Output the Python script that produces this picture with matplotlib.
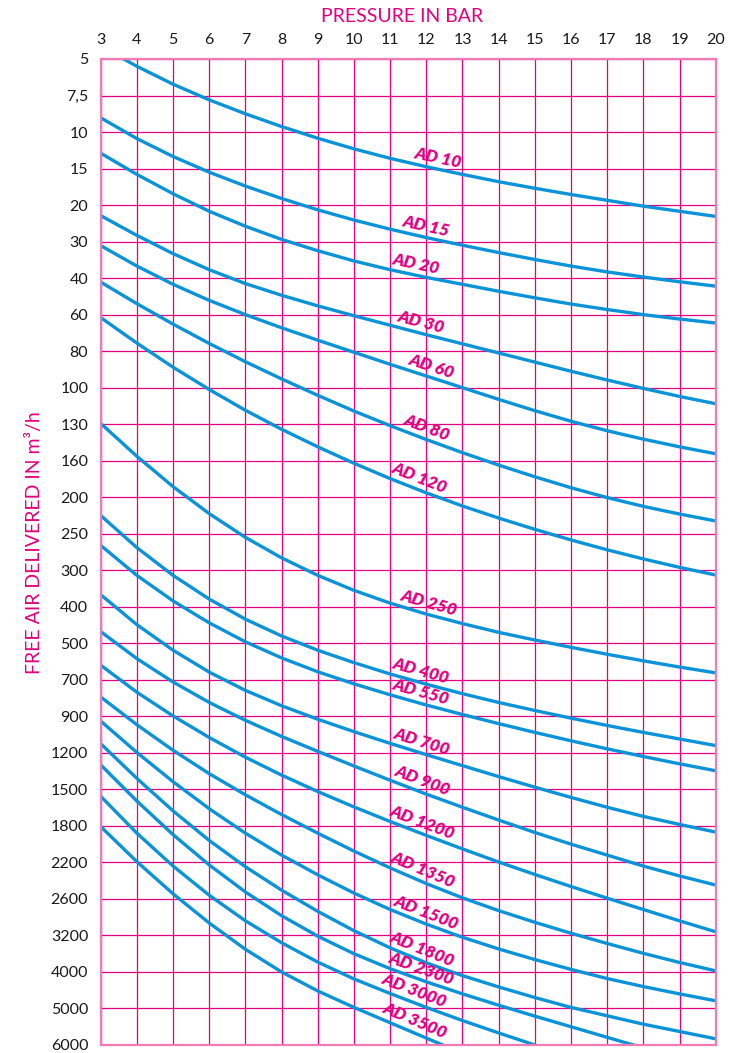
import numpy as np
import matplotlib.pyplot as plt

plt.rcParams['font.family'] = ['Lato', 'DejaVu Sans']

# pressure in bar (top axis)
pressure = list(range(3, 21))

# free air delivered in m3/h (rows of the chart, top to bottom)
flow_labels = ['5', '7,5', '10', '15', '20', '30', '40', '60', '80', '100',
               '130', '160', '200', '250', '300', '400', '500', '700', '900',
               '1200', '1500', '1800', '2200', '2600', '3200', '4000', '5000',
               '6000']

models = ['AD 10', 'AD 15', 'AD 20', 'AD 30', 'AD 60', 'AD 80', 'AD 120',
          'AD 250', 'AD 400', 'AD 550', 'AD 700', 'AD 900', 'AD 1200',
          'AD 1350', 'AD 1500', 'AD 1800', 'AD 2300', 'AD 3000', 'AD 3500']

# curve positions, in row units (0 = "5", 27 = "6000")
ad10 = [-0.35, 0.20, 0.69, 1.12, 1.50, 1.85, 2.17, 2.46, 2.72, 2.95, 3.16, 3.36, 3.54, 3.71, 3.87, 4.03, 4.17, 4.31]
ad15 = [1.61, 2.18, 2.67, 3.10, 3.48, 3.82, 4.13, 4.41, 4.66, 4.89, 5.10, 5.30, 5.49, 5.67, 5.83, 5.97, 6.10, 6.22]
ad20 = [2.58, 3.16, 3.69, 4.17, 4.58, 4.94, 5.25, 5.53, 5.77, 5.98, 6.17, 6.36, 6.54, 6.71, 6.86, 7.00, 7.12, 7.23]
ad30 = [4.29, 4.83, 5.33, 5.77, 6.15, 6.47, 6.76, 7.03, 7.29, 7.55, 7.80, 8.05, 8.30, 8.55, 8.79, 9.02, 9.24, 9.44]
ad60 = [5.11, 5.67, 6.17, 6.61, 7.00, 7.36, 7.70, 8.03, 8.36, 8.68, 9.00, 9.32, 9.63, 9.92, 10.18, 10.41, 10.62, 10.81]
ad80 = [6.11, 6.70, 7.26, 7.79, 8.29, 8.76, 9.21, 9.64, 10.04, 10.42, 10.78, 11.12, 11.44, 11.74, 12.01, 12.25, 12.46, 12.65]
ad120 = [7.08, 7.78, 8.44, 9.05, 9.62, 10.14, 10.62, 11.07, 11.49, 11.88, 12.24, 12.57, 12.88, 13.17, 13.44, 13.69, 13.92, 14.13]
ad250 = [9.98, 10.88, 11.71, 12.45, 13.10, 13.66, 14.14, 14.55, 14.90, 15.20, 15.46, 15.70, 15.91, 16.11, 16.30, 16.48, 16.65, 16.81]
ad400 = [12.50, 13.38, 14.14, 14.79, 15.34, 15.80, 16.19, 16.53, 16.84, 17.12, 17.38, 17.62, 17.84, 18.05, 18.25, 18.44, 18.62, 18.80]
ad550 = [13.32, 14.14, 14.84, 15.44, 15.96, 16.40, 16.78, 17.11, 17.41, 17.69, 17.95, 18.20, 18.44, 18.67, 18.89, 19.10, 19.30, 19.49]
ad700 = [14.67, 15.49, 16.19, 16.79, 17.29, 17.71, 18.08, 18.42, 18.74, 19.05, 19.35, 19.65, 19.94, 20.22, 20.49, 20.74, 20.96, 21.17]
ad900 = [15.68, 16.42, 17.06, 17.62, 18.11, 18.55, 18.96, 19.36, 19.75, 20.13, 20.49, 20.84, 21.18, 21.50, 21.80, 22.10, 22.37, 22.62]
ad1200 = [16.60, 17.34, 17.99, 18.58, 19.12, 19.61, 20.06, 20.48, 20.88, 21.26, 21.63, 21.99, 22.33, 22.66, 22.98, 23.29, 23.60, 23.90]
ad1350 = [17.47, 18.23, 18.93, 19.57, 20.15, 20.69, 21.20, 21.69, 22.15, 22.58, 22.97, 23.32, 23.64, 23.94, 24.22, 24.49, 24.74, 24.97]
ad1500 = [18.13, 18.99, 19.79, 20.53, 21.20, 21.80, 22.34, 22.84, 23.29, 23.69, 24.05, 24.37, 24.66, 24.93, 25.18, 25.40, 25.60, 25.79]
ad1800 = [18.75, 19.70, 20.59, 21.40, 22.12, 22.76, 23.34, 23.87, 24.34, 24.75, 25.10, 25.41, 25.70, 25.97, 26.20, 26.43, 26.63, 26.83]
ad2300 = [19.33, 20.32, 21.24, 22.07, 22.81, 23.46, 24.02, 24.50, 24.91, 25.27, 25.60, 25.91, 26.21, 26.50, 26.79, 27.08, 27.37, 27.66]
ad3000 = [20.19, 21.20, 22.10, 22.90, 23.60, 24.20, 24.73, 25.19, 25.59, 25.97, 26.33, 26.67, 27.00, 27.32, 27.64, 27.96, 28.28, 28.60]
ad3500 = [21.02, 21.98, 22.86, 23.66, 24.38, 25.00, 25.52, 25.97, 26.39, 26.81, 27.23, 27.65, 28.07, 28.49, 28.91, 29.33, 29.75, 30.17]

curves = [ad10, ad15, ad20, ad30, ad60, ad80, ad120, ad250, ad400, ad550,
          ad700, ad900, ad1200, ad1350, ad1500, ad1800, ad2300, ad3000, ad3500]

# pressure at which each curve name is written
label_at = [12.28, 11.92, 11.67, 11.78, 12.06, 11.9, 11.7, 12.0, 11.78, 11.78,
            11.78, 11.78, 11.78, 11.78, 11.9, 11.78, 11.78, 11.56, 11.56]

magenta = '#e5007d'
blue = '#0a93d8'

fig = plt.figure(figsize=(7.42, 10.53), dpi=100)
ax = fig.add_axes([100.7 / 742, 8 / 1053, 615 / 742, 986 / 1053])
ax.set_xlim(3, 20)
ax.set_ylim(len(flow_labels) - 1, 0)

ax.xaxis.tick_top()
ax.set_xticks(pressure)
ax.set_yticks(range(len(flow_labels)))
ax.set_yticklabels(flow_labels)
ax.tick_params(length=0, labelsize=11.5, colors='#1a1a1a')
ax.tick_params(axis='x', pad=9)
ax.tick_params(axis='y', pad=9)
ax.grid(True, color=magenta, lw=0.9)
ax.set_axisbelow(True)
for s in ax.spines.values():
    s.set_color('#f07ab5')
    s.set_linewidth(1.6)

for vals in curves:
    ax.plot(pressure, vals, color=blue, lw=2.4, solid_capstyle='butt',
            solid_joinstyle='round')

# curve names, rotated along the curve and set just above it
for name, vals, lx in zip(models, curves, label_at):
    y0 = np.interp(lx, pressure, vals)
    a = ax.transData.transform((lx - 0.3, np.interp(lx - 0.3, pressure, vals)))
    b = ax.transData.transform((lx + 0.3, np.interp(lx + 0.3, pressure, vals)))
    ang = np.arctan2(b[1] - a[1], b[0] - a[0])
    c = ax.transData.transform((lx, y0))
    off = 11
    c = c + off * np.array([-np.sin(ang), np.cos(ang)])
    tx, ty = ax.transData.inverted().transform(c)
    ax.text(tx, ty, name, rotation=np.degrees(ang), rotation_mode='anchor',
            ha='center', va='center', color=magenta, fontsize=12.5,
            fontweight='heavy', fontstyle='italic')

fig.text(402 / 742, 1 - 16 / 1053, 'PRESSURE IN BAR', ha='center', va='center',
         color=magenta, fontsize=14)
fig.text(35 / 742, 1 - 543 / 1053, 'FREE AIR DELIVERED IN m³/h', rotation=90,
         ha='center', va='center', color=magenta, fontsize=14)

fig.savefig('out.png', dpi=100)
